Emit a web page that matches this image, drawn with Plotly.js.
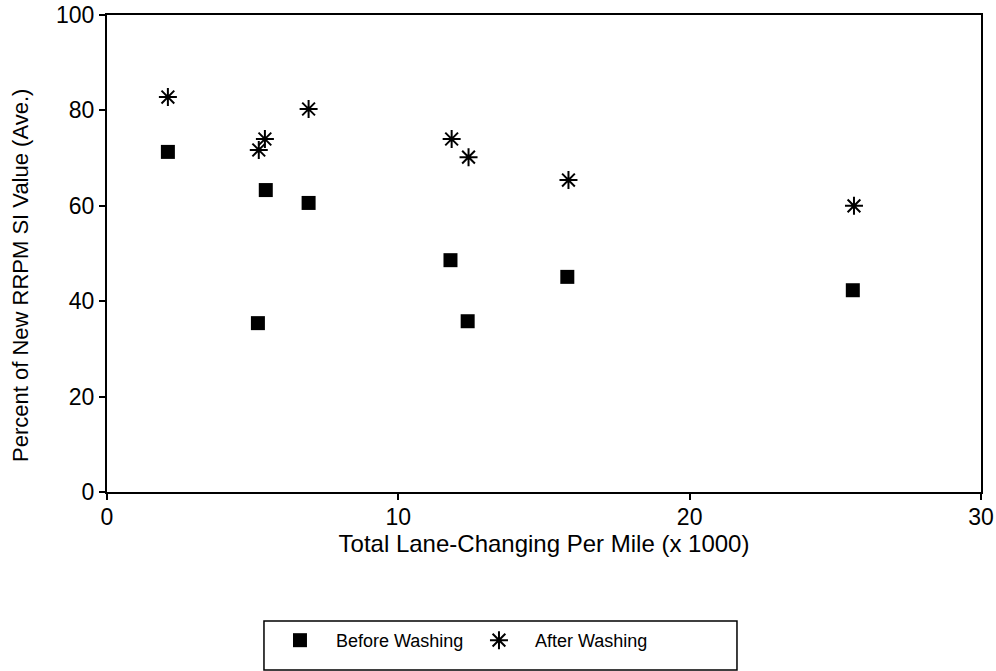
<!DOCTYPE html>
<html>
<head>
<meta charset="utf-8">
<script src="https://cdn.plot.ly/plotly-3.0.1.min.js"></script>
<style>html,body{margin:0;padding:0;background:#fff;}#chart{width:996px;height:671px;}</style>
</head>
<body>
<div id="chart"></div>
<script>
// Data
const beforeX = [2.09, 5.18, 5.45, 6.92, 11.79, 12.38, 15.8, 25.6];
const beforeY = [71.3, 35.4, 63.3, 60.6, 48.6, 35.8, 45.1, 42.3];
const afterX  = [2.09, 5.21, 5.42, 6.92, 11.83, 12.41, 15.84, 25.64];
const afterY  = [82.8, 71.7, 74.0, 80.3, 74.0, 70.2, 65.4, 60.0];
const xTicks = [0, 10, 20, 30];
const yTicks = [0, 20, 40, 60, 80, 100];
const seriesNames = ["Before Washing", "After Washing"];
const xTitle = "Total Lane-Changing Per Mile (x 1000)";
const yTitle = "Percent of New RRPM SI Value (Ave.)";

const FONT = "Liberation Sans, Arial, Helvetica, sans-serif";

const traces = [
  {
    x: beforeX, y: beforeY, name: seriesNames[0], type: "scatter", mode: "markers",
    marker: {symbol: "square", size: 14, color: "#000"}
  },
  {
    x: afterX, y: afterY, name: seriesNames[1], type: "scatter", mode: "markers",
    marker: {symbol: "asterisk-open", size: 15, color: "#000", line: {color: "#000", width: 2}}
  }
];

const layout = {
  width: 996, height: 671,
  margin: {l: 107, r: 15, t: 15, b: 179},
  paper_bgcolor: "#fff", plot_bgcolor: "#fff",
  font: {family: FONT, color: "#000", size: 18},
  showlegend: true,
  legend: {
    orientation: "h", x: 0.1796, xanchor: "left", y: -0.2725, yanchor: "top",
    borderwidth: 0, bgcolor: "rgba(0,0,0,0)",
    font: {family: FONT, size: 18, color: "#000"},
    entrywidth: 122, itemwidth: 62
  },
  shapes: [{
    type: "rect", xref: "paper", yref: "paper",
    x0: 0.1796, x1: 0.7208, y0: -0.2704, y1: -0.3732,
    line: {color: "#000", width: 1.5}, fillcolor: "rgba(0,0,0,0)"
  }],
  annotations: [{
    text: yTitle, xref: "paper", yref: "paper", x: -0.0984, y: 0.455,
    xanchor: "center", yanchor: "middle", textangle: -90, showarrow: false,
    font: {family: FONT, size: 22, color: "#000"}
  }],
  xaxis: {
    range: [0, 30], tickvals: xTicks, ticktext: xTicks.map(String),
    showgrid: false, zeroline: false, showline: true, linecolor: "#000", linewidth: 2,
    mirror: true, ticks: "outside", ticklen: 6, tickwidth: 2, tickcolor: "#000",
    tickfont: {family: FONT, size: 23}, ticklabelstandoff: -3,
    title: {text: xTitle, font: {family: FONT, size: 24}, standoff: 1}
  },
  yaxis: {
    range: [0, 100], tickvals: yTicks, ticktext: yTicks.map(String),
    showgrid: false, zeroline: false, showline: true, linecolor: "#000", linewidth: 2,
    mirror: true, ticks: "outside", ticklen: 6, tickwidth: 2, tickcolor: "#000",
    tickfont: {family: FONT, size: 23}
  }
};

Plotly.newPlot("chart", traces, layout, {displayModeBar: false, staticPlot: true});
</script>
</body>
</html>
